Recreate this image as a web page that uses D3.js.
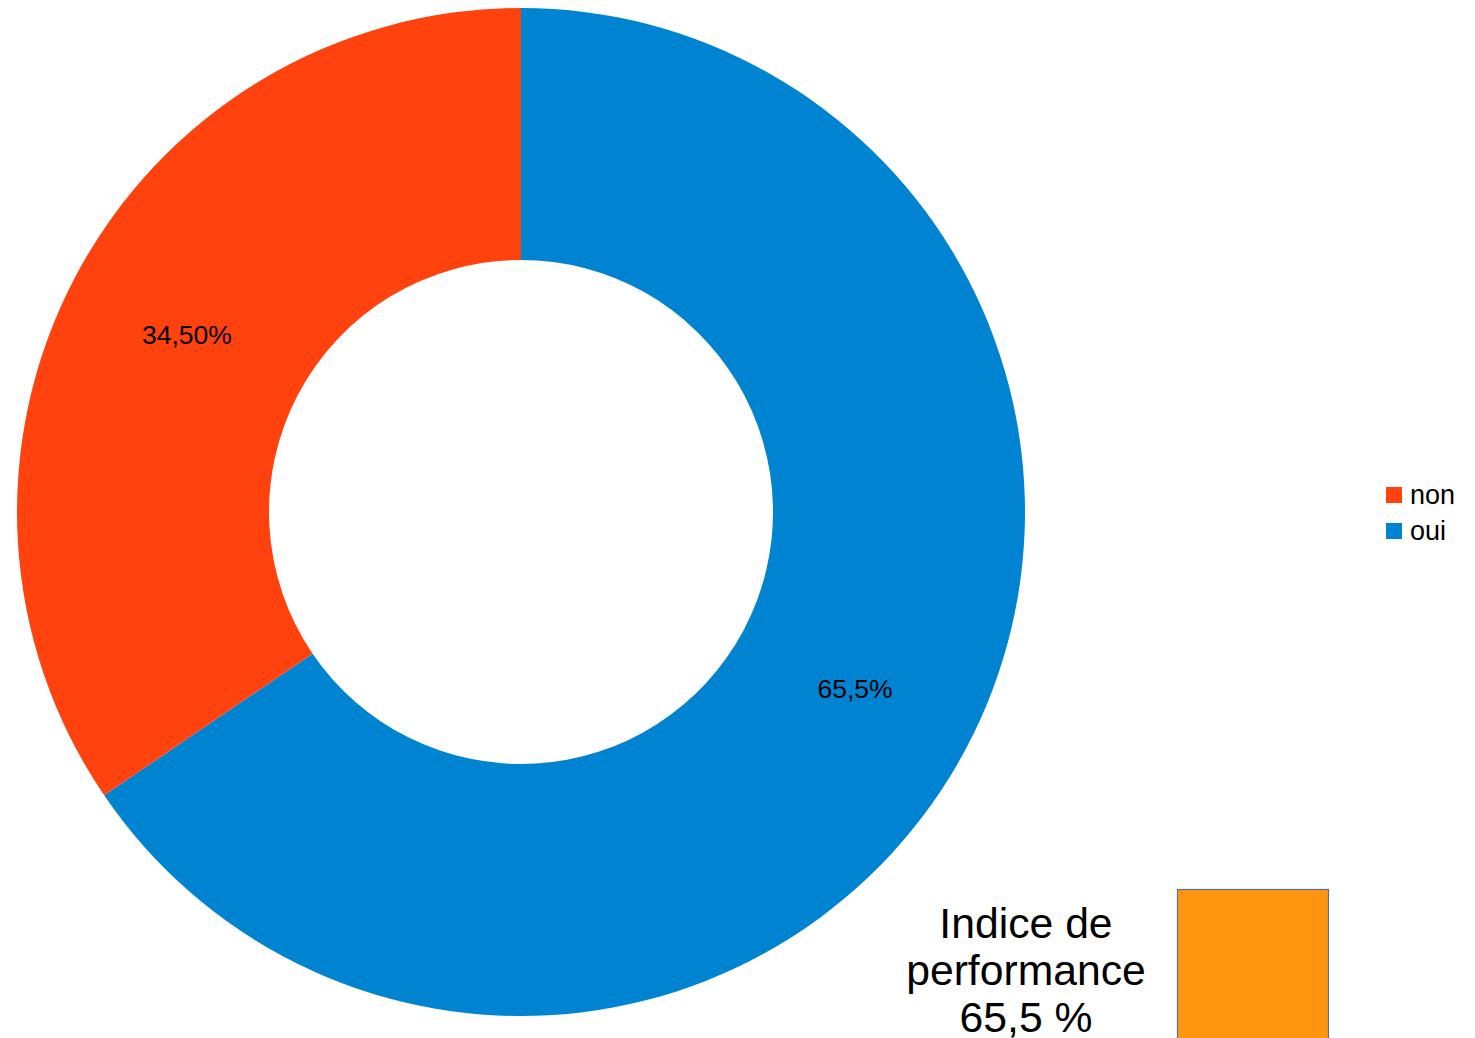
<!DOCTYPE html>
<html><head><meta charset="utf-8">
<script src="https://cdn.jsdelivr.net/npm/d3@7"></script>
<style>html,body{margin:0;padding:0;background:#fff;}svg{display:block;}</style>
</head><body>
<svg id="chart" width="1475" height="1038"></svg>
<script>
const categories = ["oui", "non"];
const values = [65.5, 34.5];
const labels = ["65,5%", "34,50%"];
const colors = ["#0084d1", "#ff420e"];
const legendOrder = ["non", "oui"];
const indiceLines = ["Indice de", "performance", "65,5 %"];

const svg = d3.select("#chart");
const font = "'Liberation Sans', Arial, sans-serif";
const cx = 521, cy = 512, outerR = 504, innerR = 252;

const pie = d3.pie().sort(null).value(d => d.v);
const data = pie(categories.map((c, i) => ({c, v: values[i], label: labels[i], color: colors[i]})));
const arc = d3.arc().innerRadius(innerR).outerRadius(outerR);

const g = svg.append("g").attr("transform", `translate(${cx},${cy})`);
g.selectAll("path").data(data).join("path")
  .attr("d", arc).attr("fill", d => d.data.color);
g.selectAll("text").data(data).join("text")
  .attr("transform", d => `translate(${arc.centroid(d)})`)
  .attr("text-anchor", "middle").attr("dominant-baseline", "central")
  .attr("font-family", font).attr("font-size", 26.5).attr("fill", "#000")
  .text(d => d.data.label);

const colorOf = c => colors[categories.indexOf(c)];
const lg = svg.append("g").attr("transform", "translate(1386,487)");
legendOrder.forEach((c, i) => {
  const row = lg.append("g").attr("transform", `translate(0,${i * 36})`);
  row.append("rect").attr("width", 16).attr("height", 16).attr("fill", colorOf(c));
  row.append("text").attr("x", 24).attr("y", 17).attr("font-family", font)
    .attr("font-size", 27).attr("fill", "#000").text(c);
});

svg.append("rect").attr("x", 1177.5).attr("y", 889.5).attr("width", 151).attr("height", 160)
  .attr("fill", "#ff950e").attr("stroke", "#4f73a5").attr("stroke-width", 1.2);

const t = svg.append("text").attr("font-family", font).attr("font-size", 42.7)
  .attr("text-anchor", "middle").attr("fill", "#000");
indiceLines.forEach((l, i) => {
  t.append("tspan").attr("x", 1026).attr("y", 938 + i * 47).text(l);
});
</script>
</body></html>
